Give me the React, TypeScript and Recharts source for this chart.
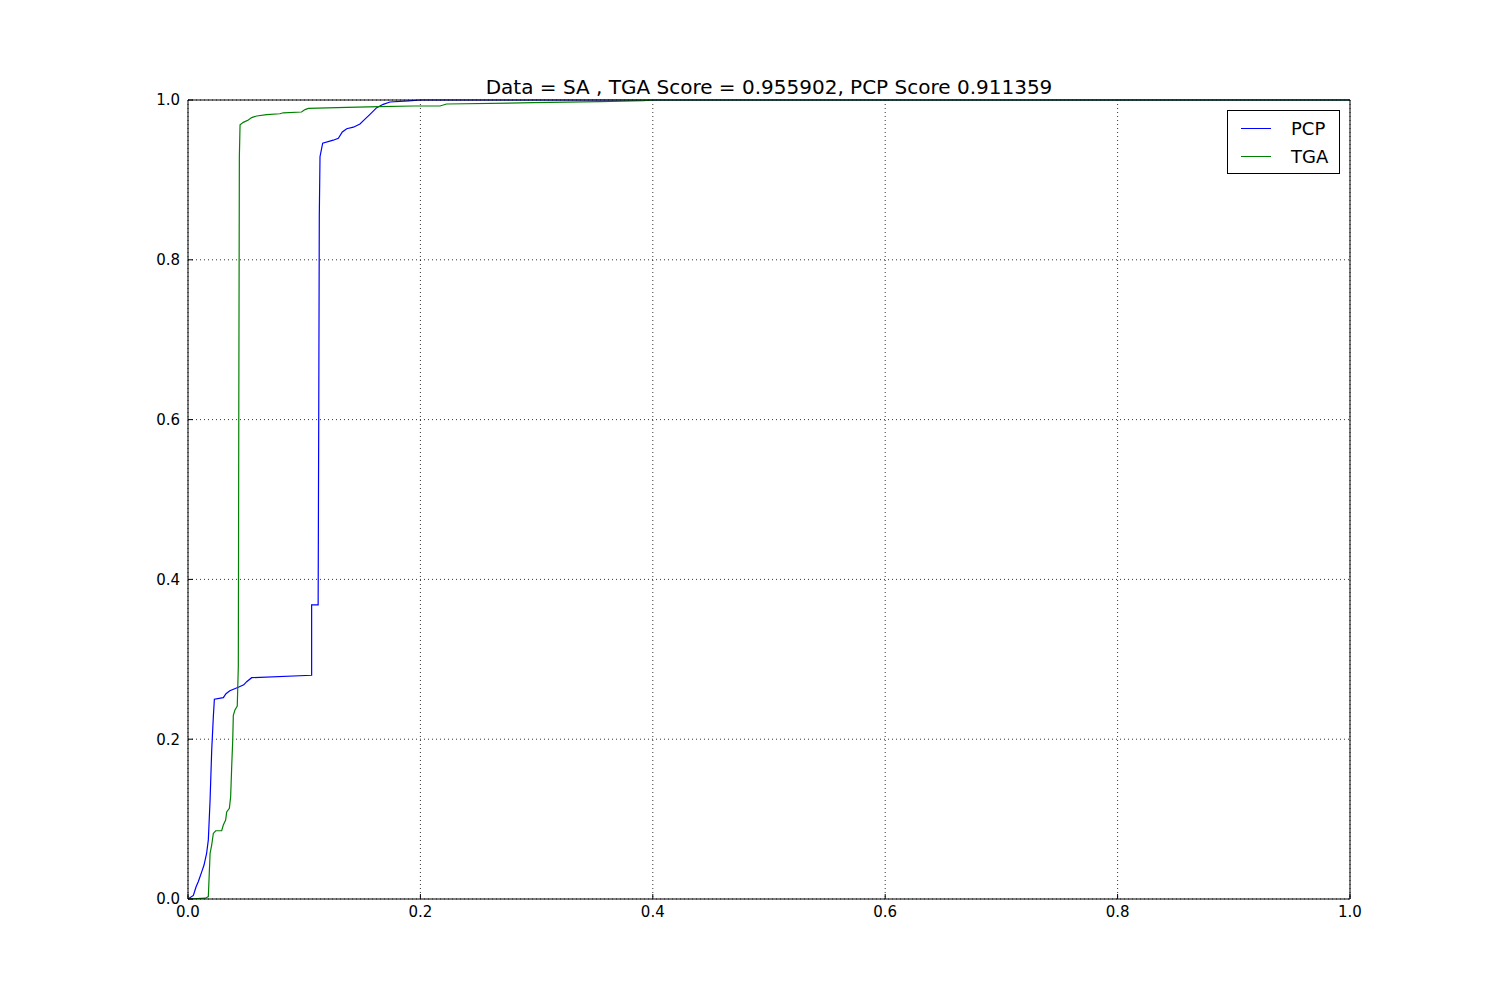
import React from 'react';
import { LineChart, Line, XAxis, YAxis, CartesianGrid } from 'recharts';

// PCP curve
const pcpX = [0, 0.0046, 0.0069, 0.0089, 0.0118, 0.0138, 0.016, 0.0175, 0.019, 0.0204, 0.0218, 0.0227, 0.0304, 0.0327, 0.036, 0.0433, 0.048, 0.0505, 0.0548, 0.1064, 0.1064, 0.112, 0.1125, 0.113, 0.1136, 0.1159, 0.125, 0.1294, 0.1328, 0.1366, 0.1423, 0.148, 0.1523, 0.1566, 0.1624, 0.168, 0.1738, 0.19, 0.2, 1.0];
const pcpY = [0, 0.0045, 0.015, 0.022, 0.034, 0.0425, 0.057, 0.074, 0.124, 0.186, 0.228, 0.25, 0.252, 0.257, 0.2606, 0.265, 0.268, 0.272, 0.277, 0.28, 0.368, 0.368, 0.6, 0.855, 0.929, 0.946, 0.9497, 0.952, 0.96, 0.964, 0.966, 0.97, 0.976, 0.982, 0.9904, 0.9946, 0.9975, 0.999, 1.0, 1.0];

// TGA curve
const tgaX = [0, 0.015, 0.0175, 0.019, 0.0204, 0.0218, 0.0238, 0.029, 0.0304, 0.0324, 0.0333, 0.0356, 0.0367, 0.0376, 0.0385, 0.039, 0.0404, 0.0424, 0.0433, 0.0437, 0.0442, 0.0448, 0.0476, 0.0519, 0.0548, 0.0591, 0.0677, 0.079, 0.082, 0.0977, 0.1007, 0.1036, 0.1366, 0.165, 0.194, 0.2169, 0.2225, 0.297, 0.3546, 0.392, 0.4, 1.0];
const tgaY = [0, 0.001, 0.003, 0.057, 0.0676, 0.082, 0.0854, 0.0854, 0.0926, 0.0989, 0.109, 0.1134, 0.128, 0.1656, 0.199, 0.23, 0.2365, 0.2415, 0.291, 0.6, 0.929, 0.969, 0.972, 0.975, 0.978, 0.98, 0.9816, 0.9828, 0.984, 0.985, 0.988, 0.9895, 0.9908, 0.9916, 0.9925, 0.9925, 0.995, 0.9966, 0.998, 0.9991, 1.0, 1.0];

const ticks = [0, 0.2, 0.4, 0.6, 0.8, 1.0];
const title = 'Data = SA , TGA Score = 0.955902, PCP Score 0.911359';
const seriesNames = ['PCP', 'TGA'];
const seriesColors = ['#0000ff', '#008000'];

const pcpData = pcpX.map((x, i) => ({ x, y: pcpY[i] }));
const tgaData = tgaX.map((x, i) => ({ x, y: tgaY[i] }));

const font = '"DejaVu Sans", sans-serif';
const fmt = (v: number) => v.toFixed(1);
const blank = () => '';

export default function App() {
  return (
    <div style={{ position: 'absolute', left: 0, top: 0, width: 1500, height: 1000, background: '#fff' }}>
      <div style={{ position: 'absolute', left: 188, width: 1162, top: 74, textAlign: 'center', fontFamily: font, fontSize: 20, lineHeight: '26px', color: '#000' }}>
        {title}
      </div>
      <LineChart width={1500} height={1000} margin={{ top: 70, right: 90, bottom: 71, left: 128 }}>
        <CartesianGrid xAxisId="b" yAxisId="l" stroke="#000" strokeWidth={0.8} strokeDasharray="1 3" />
        <XAxis xAxisId="b" type="number" dataKey="x" domain={[0, 1]} ticks={ticks} tickFormatter={fmt}
          height={30} stroke="#000" tickSize={-5} tickMargin={12} allowDuplicatedCategory={false}
          tick={{ fill: '#000', fontSize: 15, fontFamily: font }} />
        <XAxis xAxisId="t" orientation="top" type="number" dataKey="x" domain={[0, 1]} ticks={ticks} tickFormatter={blank}
          height={30} stroke="#000" tickSize={-5} allowDuplicatedCategory={false} />
        <YAxis yAxisId="l" type="number" dataKey="y" domain={[0, 1]} ticks={ticks} tickFormatter={fmt}
          width={60} stroke="#000" tickSize={-5} tickMargin={13}
          tick={{ fill: '#000', fontSize: 15, fontFamily: font }} />
        <YAxis yAxisId="r" orientation="right" type="number" dataKey="y" domain={[0, 1]} ticks={ticks} tickFormatter={blank}
          width={60} stroke="#000" tickSize={-5} />
        <Line xAxisId="b" yAxisId="l" data={pcpData} dataKey="y" name={seriesNames[0]} stroke={seriesColors[0]} strokeWidth={1.2}
          dot={false} type="linear" isAnimationActive={false} />
        <Line xAxisId="b" yAxisId="l" data={tgaData} dataKey="y" name={seriesNames[1]} stroke={seriesColors[1]} strokeWidth={1.2}
          dot={false} type="linear" isAnimationActive={false} />
      </LineChart>
      <div style={{ position: 'absolute', left: 1227, top: 110, width: 111, height: 62, border: '1px solid #000', background: '#fff', fontFamily: font, fontSize: 18 }}>
        {seriesNames.map((name, i) => (
          <div key={name} style={{ display: 'flex', alignItems: 'center', height: 28, marginTop: i === 0 ? 3 : 0 }}>
            <span style={{ display: 'inline-block', width: 30, height: 0, borderTop: `1px solid ${seriesColors[i]}`, marginLeft: 13, marginRight: 20 }} />
            <span style={{ color: '#000' }}>{name}</span>
          </div>
        ))}
      </div>
    </div>
  );
}
